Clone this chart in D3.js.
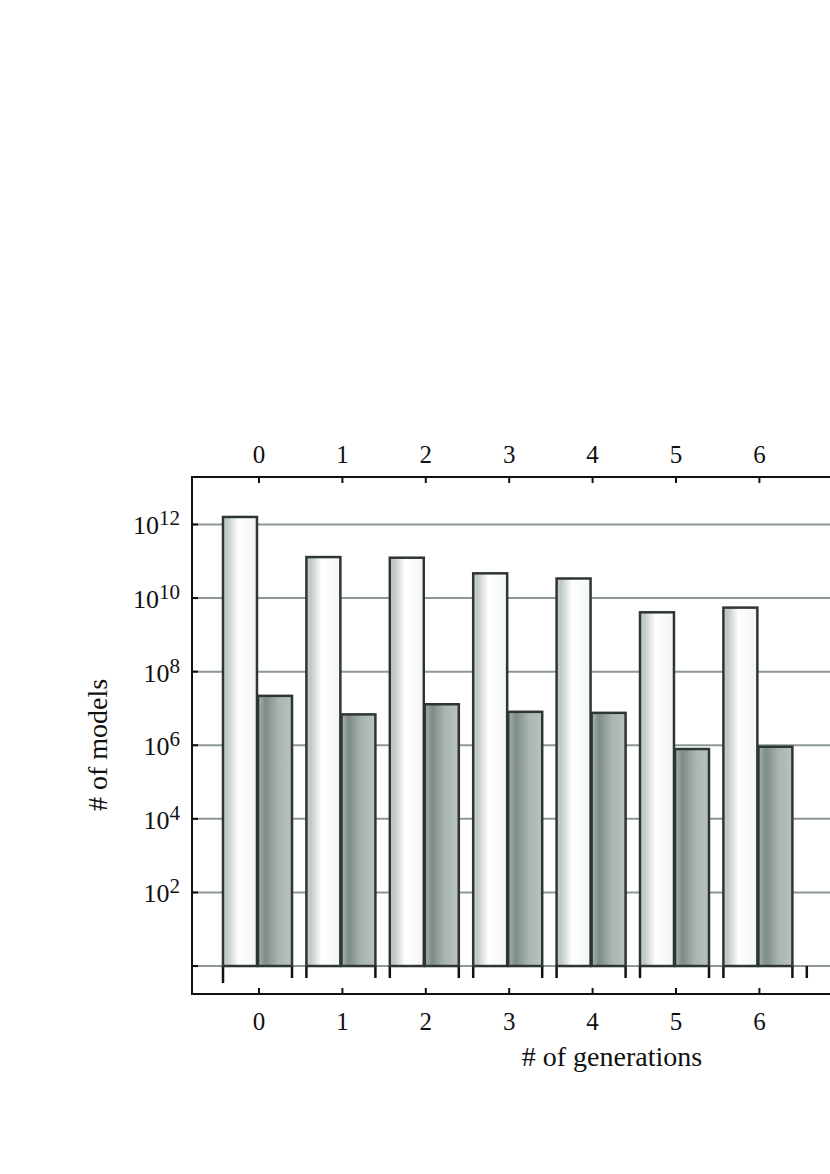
<!DOCTYPE html>
<html>
<head>
<meta charset="utf-8">
<script src="https://cdnjs.cloudflare.com/ajax/libs/d3/7.8.5/d3.min.js"></script>
<style>
    body { margin: 0; background: #fff; }
    svg { display: block; }
    text { font-family: "Liberation Serif", "DejaVu Serif", serif; fill: #111; }
</style>
</head>
<body>
<div id="chart"></div>
<script>
//---------------------------------------------------
// data
//---------------------------------------------------
var generations = ["0", "1", "2", "3", "4", "5", "6"]
var allModels = [1.6e12, 1.3e11, 1.25e11, 4.7e10, 3.4e10, 4.1e9, 5.5e9]
var keptModels = [2.2e7, 6.9e6, 1.3e7, 8.1e6, 7.6e6, 7.9e5, 9.1e5]
var yTicks = [1, 1e2, 1e4, 1e6, 1e8, 1e10, 1e12]
var yTickLabels = ["", "2", "4", "6", "8", "10", "12"]

//---------------------------------------------------
// init parameters
//---------------------------------------------------
var width = 830, height = 1174
var frameLeft = 192, frameRight = 870, frameTop = 477, frameBottom = 994
var dark = "#2e3535"
var gridColor = "#8d9797"

var svg = d3.select("#chart").append("svg")
    .attr("width", width)
    .attr("height", height)

var defs = svg.append("defs")

var gWhite = defs.append("linearGradient").attr("id", "gradWhite")
var whiteStops = [[0, "#c9d0cf"], [0.12, "#bfc8c6"], [0.45, "#ffffff"], [1, "#f2f4f4"]]
whiteStops.forEach(function (s) {
    gWhite.append("stop").attr("offset", s[0]).attr("stop-color", s[1])
})
var gDark = defs.append("linearGradient").attr("id", "gradDark")
var darkStops = [[0, "#a6b2af"], [0.22, "#7e8c89"], [0.6, "#a9b5b2"], [1, "#b9c3c0"]]
darkStops.forEach(function (s) {
    gDark.append("stop").attr("offset", s[0]).attr("stop-color", s[1])
})

//---------------------------------------------------
// scales
//---------------------------------------------------
var x = d3.scaleBand()
    .domain(generations)
    .range([208.6, 806.8])
    .paddingInner(0.1727)
    .paddingOuter(0.1727)

var xSub = d3.scaleBand()
    .domain(["all", "kept"])
    .range([0, x.bandwidth()])
    .paddingInner(0.03)

var y = d3.scaleLog()
    .domain([Math.pow(10, -0.76), Math.pow(10, 13.29)])
    .range([frameBottom, frameTop])

//---------------------------------------------------
// grid lines
//---------------------------------------------------
svg.selectAll(".grid")
    .data(yTicks)
    .enter()
    .append("line")
    .attr("class", "grid")
    .attr("x1", frameLeft).attr("x2", frameRight)
    .attr("y1", function (d) { return y(d) })
    .attr("y2", function (d) { return y(d) })
    .style("stroke", gridColor)
    .style("stroke-width", 2)

//---------------------------------------------------
// the little brackets under each pair of bars
//---------------------------------------------------
var step = x.step()
var leftTicks = generations.concat(["7"])
svg.selectAll(".bracketL")
    .data(leftTicks)
    .enter()
    .append("line")
    .attr("x1", function (d, i) { return x("0") + i * step })
    .attr("x2", function (d, i) { return x("0") + i * step })
    .attr("y1", y(1))
    .attr("y2", function (d, i) { return y(1) + (i == 0 ? 17 : 12) })
    .style("stroke", "#111")
    .style("stroke-width", 2.5)

svg.selectAll(".bracketR")
    .data(generations)
    .enter()
    .append("line")
    .attr("x1", function (d) { return x(d) + x.bandwidth() })
    .attr("x2", function (d) { return x(d) + x.bandwidth() })
    .attr("y1", y(1))
    .attr("y2", y(1) + 12)
    .style("stroke", "#111")
    .style("stroke-width", 2.5)

//---------------------------------------------------
// bars
//---------------------------------------------------
var groups = svg.selectAll(".group")
    .data(generations)
    .enter()
    .append("g")
    .attr("class", "group")
    .attr("transform", function (d) { return "translate(" + x(d) + ",0)" })

groups.append("rect")
    .attr("x", xSub("all"))
    .attr("width", xSub.bandwidth())
    .attr("y", function (d, i) { return y(allModels[i]) })
    .attr("height", function (d, i) { return y(1) - y(allModels[i]) })
    .style("fill", "url(#gradWhite)")
    .style("stroke", dark)
    .style("stroke-width", 2.5)

groups.append("rect")
    .attr("x", xSub("kept"))
    .attr("width", xSub.bandwidth())
    .attr("y", function (d, i) { return y(keptModels[i]) })
    .attr("height", function (d, i) { return y(1) - y(keptModels[i]) })
    .style("fill", "url(#gradDark)")
    .style("stroke", dark)
    .style("stroke-width", 2.5)

//---------------------------------------------------
// frame and axes
//---------------------------------------------------
svg.append("path")
    .attr("d", "M" + frameRight + "," + frameTop + " H" + frameLeft + " V" + frameBottom + " H" + frameRight)
    .style("fill", "none")
    .style("stroke", "#111")
    .style("stroke-width", 2)

var axisTop = svg.append("g").attr("transform", "translate(1.5," + frameTop + ")")
    .call(d3.axisTop(x).tickSize(-6).tickPadding(14))
var axisBottom = svg.append("g").attr("transform", "translate(1.5," + frameBottom + ")")
    .call(d3.axisBottom(x).tickSize(-6).tickPadding(18))
;[axisTop, axisBottom].forEach(function (a) {
    a.select(".domain").remove()
    a.selectAll(".tick line").style("stroke", "#111").style("stroke-width", 2)
    a.selectAll(".tick text")
        .style("font-family", "Liberation Serif, serif")
        .style("font-size", "25px")
        .style("fill", "#111")
})

// y ticks: short marks inside the frame and 10^n labels
svg.selectAll(".yTick")
    .data(yTicks)
    .enter()
    .append("line")
    .attr("x1", frameLeft).attr("x2", frameLeft + 6)
    .attr("y1", function (d) { return y(d) })
    .attr("y2", function (d) { return y(d) })
    .style("stroke", "#111")
    .style("stroke-width", 2)

var yLab = svg.selectAll(".yLab")
    .data(yTicks.filter(function (d, i) { return yTickLabels[i] != "" }))
    .enter()
    .append("text")
    .attr("x", 180)
    .attr("y", function (d) { return y(d) + 10 })
    .attr("text-anchor", "end")
    .style("font-size", "26px")
yLab.append("tspan").text("10")
yLab.append("tspan")
    .attr("dy", -9)
    .style("font-size", "21px")
    .text(function (d) { return yTickLabels[yTicks.indexOf(d)] })

//---------------------------------------------------
// titles
//---------------------------------------------------
svg.append("text")
    .attr("transform", "translate(107,745) rotate(-90)")
    .attr("text-anchor", "middle")
    .style("font-size", "28px")
    .text("# of models")

svg.append("text")
    .attr("x", 612).attr("y", 1066)
    .attr("text-anchor", "middle")
    .style("font-size", "28px")
    .text("# of generations")
</script>
</body>
</html>
